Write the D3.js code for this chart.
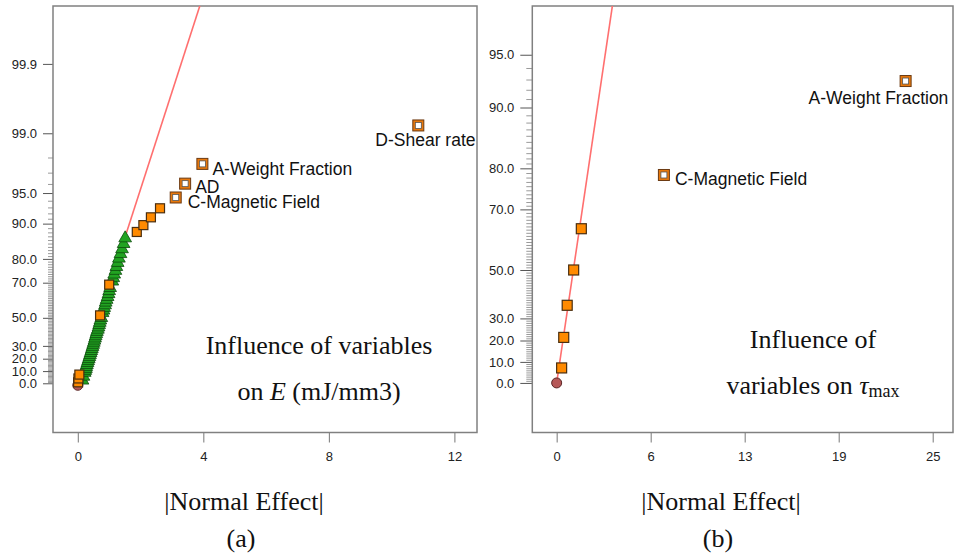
<!DOCTYPE html>
<meta charset="utf-8">
<style>
body { margin: 0; background: #fff; }
.tick text { font-family: "Liberation Sans", Arial, sans-serif; font-size: 13px; fill: #222; }
.lbl { font-family: "Liberation Sans", Arial, sans-serif; font-size: 17.5px; fill: #111; }
.serif { font-family: "Liberation Serif", "Times New Roman", serif; font-size: 26px; fill: #111; }
</style>
<div id="chart"></div>
<script src="https://cdn.jsdelivr.net/npm/d3@7"></script>
<script>

// ---- data: half-normal probability (%) vs |effect| ----
// panel (a): energy E
var yLabelsA = [0, 10, 20, 30, 50, 70, 80, 90, 95, 99, 99.9];
var xTicksA = [0, 4, 8, 12];
var errPctA = [2.38, 5.56, 8.73, 10.32, 11.90, 13.49, 15.08, 16.67, 18.25, 19.84,
               21.43, 23.02, 24.60, 26.19, 27.78, 29.37, 30.95, 32.54, 34.13, 35.71,
               37.30, 38.89, 40.48, 42.06, 43.65, 45.24, 46.83, 48.41, 50.00, 53.17,
               54.76, 56.35, 57.94, 59.52, 61.11, 62.70, 64.29, 65.87, 67.46, 70.63,
               72.22, 73.81, 75.40, 76.98, 78.57, 80.16, 81.75, 83.33, 84.92, 86.51];
var errEffA = [0.15, 0.18, 0.22, 0.24, 0.26, 0.27, 0.29, 0.31, 0.33, 0.35,
               0.37, 0.39, 0.41, 0.43, 0.45, 0.47, 0.49, 0.51, 0.53, 0.55,
               0.57, 0.59, 0.61, 0.64, 0.66, 0.68, 0.70, 0.72, 0.75, 0.79,
               0.82, 0.84, 0.87, 0.89, 0.92, 0.95, 0.98, 1.00, 1.03, 1.10,
               1.13, 1.16, 1.20, 1.23, 1.27, 1.31, 1.36, 1.41, 1.46, 1.51];
var effPctA = [0.79, 3.97, 7.14, 51.59, 69.05, 88.10, 89.68, 91.27, 92.86];
var effEffA = [0.01, 0.02, 0.05, 0.71, 1.00, 1.88, 2.09, 2.33, 2.62];
var namesA = ["C-Magnetic Field", "AD", "A-Weight Fraction", "D-Shear rate"];
var namedPctA = [94.44, 96.03, 97.62, 99.21];
var namedEffA = [3.12, 3.42, 3.97, 10.85];
var sigmaA = 1.0;

// panel (b): tau max
var yLabelsB = [0, 10, 20, 30, 50, 70, 80, 90, 95];
var xTicksB = [0, 6.25, 12.5, 18.75, 25];
var effPctB = [7.14, 21.43, 35.71, 50.00, 64.29];
var effEffB = [0.33, 0.47, 0.70, 1.13, 1.64];
var namesB = ["C-Magnetic Field", "A-Weight Fraction"];
var namedPctB = [78.57, 92.86];
var namedEffB = [7.13, 23.2];
var sigmaB = 1.645;

// inverse normal cdf (Acklam)
function invNorm(p) {
  var a = [-3.969683028665376e+01, 2.209460984245205e+02, -2.759285104469687e+02, 1.383577518672690e+02, -3.066479806614716e+01, 2.506628277459239e+00],
      b = [-5.447609879822406e+01, 1.615858368580409e+02, -1.556989798598866e+02, 6.680131188771972e+01, -1.328068155288572e+01],
      c = [-7.784894002430293e-03, -3.223964580411365e-01, -2.400758277161838e+00, -2.549671509908526e+00, 4.374664141464968e+00, 2.938163982698783e+00],
      d = [7.784695709041462e-03, 3.224671290700398e-01, 2.445134137142996e+00, 3.754408661907416e+00],
      pl = 0.02425, q, r;
  if (p < pl) {
    q = Math.sqrt(-2 * Math.log(p));
    return (((((c[0]*q+c[1])*q+c[2])*q+c[3])*q+c[4])*q+c[5]) / ((((d[0]*q+d[1])*q+d[2])*q+d[3])*q+1);
  }
  if (p <= 1 - pl) {
    q = p - 0.5; r = q * q;
    return (((((a[0]*r+a[1])*r+a[2])*r+a[3])*r+a[4])*r+a[5])*q / (((((b[0]*r+b[1])*r+b[2])*r+b[3])*r+b[4])*r+1);
  }
  q = Math.sqrt(-2 * Math.log(1 - p));
  return -(((((c[0]*q+c[1])*q+c[2])*q+c[3])*q+c[4])*q+c[5]) / ((((d[0]*q+d[1])*q+d[2])*q+d[3])*q+1);
}
function hnq(p) { return invNorm(0.5 + p / 200); }

var svg = d3.select("#chart").append("svg")
    .attr("width", 956)
    .attr("height", 556);
svg.append("rect").attr("width", 956).attr("height", 556).attr("fill", "#fff");

function drawPanel(o) {
  var x = d3.scaleLinear().domain(o.xDomain).range([o.left, o.right]),
      y = d3.scaleLinear().domain(o.zDomain).range([o.bottom, o.top]),
      g = svg.append("g");

  g.append("clipPath").attr("id", o.id + "clip")
    .append("rect")
      .attr("x", o.left).attr("y", o.top)
      .attr("width", o.right - o.left).attr("height", o.bottom - o.top);

  // minor y ticks
  var minor = d3.range(1, o.minorMax + 1).filter(function(p) { return o.yLabels.indexOf(p) < 0; });
  g.append("g")
      .attr("transform", "translate(" + o.left + ",0)")
      .call(d3.axisLeft(y).tickValues(minor.map(hnq)).tickSize(o.minorLen).tickFormat(""))
      .call(function(s) { s.select(".domain").remove(); s.selectAll("line").attr("stroke", "#9a9a9a"); });

  // major y ticks
  g.append("g")
      .attr("transform", "translate(" + o.left + ",0)")
      .call(d3.axisLeft(y).tickValues(o.yLabels.map(hnq)).tickSize(o.majorLen).tickPadding(6)
        .tickFormat(function(d, i) { return o.yLabels[i].toFixed(1); }))
      .call(function(s) { s.select(".domain").remove(); s.selectAll("line").attr("stroke", "#555"); });

  // x ticks
  g.append("g")
      .attr("transform", "translate(0," + o.bottom + ")")
      .call(d3.axisBottom(x).tickValues(o.xTicks).tickSize(10).tickPadding(9).tickFormat(d3.format(".0f")))
      .call(function(s) { s.select(".domain").remove(); s.selectAll("line").attr("stroke", "#777"); });

  // frame
  g.append("rect")
      .attr("x", o.left).attr("y", o.top)
      .attr("width", o.right - o.left).attr("height", o.bottom - o.top)
      .attr("fill", "none").attr("stroke", "#808080").attr("stroke-width", 1.5);

  var plot = g.append("g");

  // fitted line
  var xe = o.xDomain[1];
  plot.append("line")
      .attr("clip-path", "url(#" + o.id + "clip)")
      .attr("x1", x(0)).attr("y1", y(0))
      .attr("x2", x(xe)).attr("y2", y(xe / o.sigma))
      .attr("stroke", "#ff6f6f").attr("stroke-width", 1.6);

  // origin circle
  plot.append("circle")
      .attr("cx", x(0)).attr("cy", y(0) + o.circleDy).attr("r", 5)
      .attr("fill", "#b65858").attr("stroke", "#5a2424").attr("stroke-width", 1);

  // error terms (triangles)
  if (o.errPct) {
    plot.selectAll(".err")
      .data(o.errPct)
      .enter().append("path")
        .attr("class", "err")
        .attr("d", d3.symbol().type(d3.symbolTriangle).size(70))
        .attr("transform", function(d, i) { return "translate(" + x(o.errEff[i]) + "," + y(hnq(d)) + ")"; })
        .attr("fill", "#22a322").attr("stroke", "#0b4d0b").attr("stroke-width", 0.8);
  }

  // effects (filled squares)
  var s = o.sq;
  plot.selectAll(".eff")
    .data(o.effPct)
    .enter().append("rect")
      .attr("class", "eff")
      .attr("x", function(d, i) { return x(o.effEff[i]) - s / 2; })
      .attr("y", function(d) { return y(hnq(d)) - s / 2; })
      .attr("width", s).attr("height", s)
      .attr("fill", "#ff8a00").attr("stroke", "#4a2e10").attr("stroke-width", 1.2);

  // named effects (open squares + labels)
  var named = plot.selectAll(".named")
    .data(o.names)
    .enter().append("g")
      .attr("class", "named")
      .attr("transform", function(d, i) { return "translate(" + x(o.namedEff[i]) + "," + y(hnq(o.namedPct[i])) + ")"; });
  named.append("rect")
      .attr("x", -5.5).attr("y", -5.5).attr("width", 11).attr("height", 11)
      .attr("fill", "#e8780c").attr("stroke", "#6b3a12").attr("stroke-width", 1);
  named.append("rect")
      .attr("x", -3).attr("y", -3).attr("width", 6).attr("height", 6)
      .attr("fill", "#fff").attr("stroke", "#555").attr("stroke-width", 0.8);
  named.append("text")
      .attr("class", "lbl")
      .attr("x", function(d, i) { return o.labelOff[i][0]; })
      .attr("y", function(d, i) { return o.labelOff[i][1]; })
      .text(function(d) { return d; });

  // bottom titles
  var cx = (o.left + o.right) / 2;
  g.append("text").attr("class", "serif").attr("text-anchor", "middle")
      .attr("x", o.titleX).attr("y", 510).text("|Normal Effect|");
  g.append("text").attr("class", "serif").attr("text-anchor", "middle")
      .attr("x", o.titleX - 3).attr("y", 547).text(o.caption);

  return g;
}

var gA = drawPanel({
  id: "a", left: 53, right: 477, top: 6, bottom: 432.5,
  xDomain: [-0.79, 12.72], zDomain: [-0.507, 3.887],
  yLabels: yLabelsA, xTicks: xTicksA, minorMax: 98, majorLen: 10, minorLen: 5,
  errPct: errPctA, errEff: errEffA, effPct: effPctA, effEff: effEffA,
  names: namesA, namedPct: namedPctA, namedEff: namedEffA,
  labelOff: [[12, 11], [10, 9.5], [10, 11], [-43, 21]],
  sigma: sigmaA, sq: 9, circleDy: 2, titleX: 244, caption: "(a)"
});

var gB = drawPanel({
  id: "b", left: 532.3, right: 953, top: 6, bottom: 432.5,
  xDomain: [-1.62, 26.35], zDomain: [-0.296, 2.251],
  yLabels: yLabelsB, xTicks: xTicksB, minorMax: 94, majorLen: 12, minorLen: 6,
  effPct: effPctB, effEff: effEffB,
  names: namesB, namedPct: namedPctB, namedEff: namedEffB,
  labelOff: [[11, 10], [-97, 23]],
  sigma: sigmaB, sq: 10, circleDy: 0, titleX: 721, caption: "(b)"
});

// annotations
var tA = gA.append("text").attr("class", "serif").attr("text-anchor", "middle");
tA.append("tspan").attr("x", 319).attr("y", 354).text("Influence of variables");
var tA2 = gA.append("text").attr("class", "serif").attr("text-anchor", "middle").attr("x", 319).attr("y", 400);
tA2.append("tspan").text("on ");
tA2.append("tspan").style("font-style", "italic").text("E");
tA2.append("tspan").text(" (mJ/mm3)");

gB.append("text").attr("class", "serif").attr("text-anchor", "middle")
    .attr("x", 813).attr("y", 348).text("Influence of");
var tB2 = gB.append("text").attr("class", "serif").attr("text-anchor", "middle").attr("x", 813).attr("y", 394);
tB2.append("tspan").text("variables on ");
tB2.append("tspan").style("font-style", "italic").text("\u03c4");
tB2.append("tspan").attr("dy", 3).style("font-size", "18px").text("max");

</script>
